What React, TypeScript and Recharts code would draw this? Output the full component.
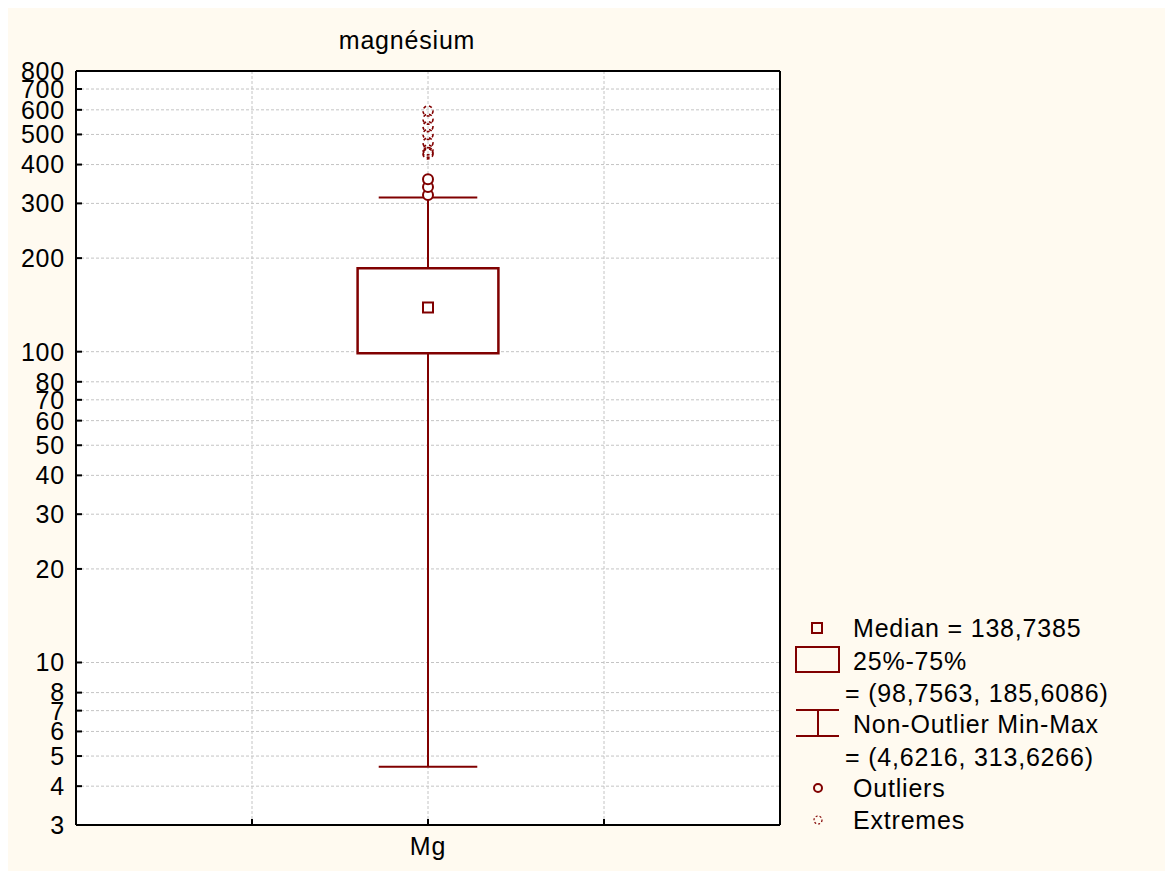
import { CartesianGrid, ComposedChart, ReferenceArea, ReferenceLine, Scatter, XAxis, YAxis } from 'recharts';

const TITLE = 'magnésium';
const CATEGORY = 'Mg';
const X_TICKS = [1, 2, 3];
const X_LABELS = ['', CATEGORY, ''];
const Y_TICKS = [3, 4, 5, 6, 7, 8, 10, 20, 30, 40, 50, 60, 70, 80, 100, 200, 300, 400, 500, 600, 700, 800];
const MEDIAN = [138.7385];
const QUARTILES = [98.7563, 185.6086];
const NON_OUTLIER = [4.6216, 313.6266];
const OUTLIERS = [319, 339, 359];
const EXTREMES = [433, 438, 446, 470, 500, 530, 560, 595];

const RED = '#800000';
const FONT = '"Liberation Sans", Arial, sans-serif';
const POS = 2;

const fmt = (v: number) => v.toFixed(4).replace('.', ',');

const medianData = MEDIAN.map((y) => ({ x: POS, y }));
const outlierData = OUTLIERS.map((y) => ({ x: POS, y }));
const extremeData = EXTREMES.map((y) => ({ x: POS, y }));

const SquareShape = (p: any) => (
  <rect x={p.cx - 5} y={p.cy - 5} width={10} height={10} fill="#fff" stroke={RED} strokeWidth={2} />
);
const CircleShape = (p: any) => <circle cx={p.cx} cy={p.cy} r={5} fill="#fff" stroke={RED} strokeWidth={2} />;
const ExtremeShape = (p: any) => (
  <circle cx={p.cx} cy={p.cy} r={5} fill="none" stroke={RED} strokeWidth={1.6} strokeDasharray="3 3" />
);

const textStyle = { fontSize: 25, letterSpacing: 0.8, fill: '#000' } as const;

const App = () => {
  return (
    <div style={{ position: 'relative', width: 1157, height: 863, background: '#FFFAF0', fontFamily: FONT }}>
      <ComposedChart width={1157} height={863} margin={{ top: 53, right: 375, bottom: 0, left: 0 }}>
        <CartesianGrid fill="#ffffff" stroke="#c4c4c4" strokeDasharray="3 2" />
        <XAxis
          type="number"
          dataKey="x"
          domain={[0, 4]}
          ticks={X_TICKS}
          interval={0}
          height={46}
          tickSize={-6}
          tickMargin={18}
          tickFormatter={(v: number) => X_LABELS[X_TICKS.indexOf(v)] ?? ''}
          axisLine={{ stroke: '#000', strokeWidth: 2 }}
          tickLine={{ stroke: '#000', strokeWidth: 2 }}
          tick={textStyle}
        />
        <XAxis
          xAxisId="top"
          orientation="top"
          type="number"
          domain={[0, 4]}
          ticks={X_TICKS}
          height={10}
          tickSize={-6}
          tick={false}
          axisLine={{ stroke: '#000', strokeWidth: 2 }}
          tickLine={{ stroke: '#000', strokeWidth: 2 }}
        />
        <YAxis
          type="number"
          dataKey="y"
          scale="log"
          domain={[3, 800]}
          allowDataOverflow
          ticks={Y_TICKS}
          interval={0}
          width={68}
          tickSize={-6}
          tickMargin={17}
          axisLine={{ stroke: '#000', strokeWidth: 2 }}
          tickLine={{ stroke: '#000', strokeWidth: 2 }}
          tick={textStyle}
        />
        <YAxis
          yAxisId="right"
          orientation="right"
          type="number"
          domain={[0, 4]}
          ticks={[1, 2, 3]}
          width={10}
          tickSize={-6}
          tick={false}
          axisLine={{ stroke: '#000', strokeWidth: 2 }}
          tickLine={{ stroke: '#000', strokeWidth: 2 }}
        />
        <ReferenceLine
          segment={[{ x: POS, y: NON_OUTLIER[0] }, { x: POS, y: QUARTILES[0] }]}
          stroke={RED}
          strokeWidth={2}
        />
        <ReferenceLine
          segment={[{ x: POS, y: QUARTILES[1] }, { x: POS, y: NON_OUTLIER[1] }]}
          stroke={RED}
          strokeWidth={2}
        />
        <ReferenceLine
          segment={[{ x: POS - 0.28, y: NON_OUTLIER[0] }, { x: POS + 0.28, y: NON_OUTLIER[0] }]}
          stroke={RED}
          strokeWidth={2}
        />
        <ReferenceLine
          segment={[{ x: POS - 0.28, y: NON_OUTLIER[1] }, { x: POS + 0.28, y: NON_OUTLIER[1] }]}
          stroke={RED}
          strokeWidth={2}
        />
        <ReferenceArea
          x1={POS - 0.4}
          x2={POS + 0.4}
          y1={QUARTILES[0]}
          y2={QUARTILES[1]}
          fill="#ffffff"
          fillOpacity={1}
          stroke={RED}
          strokeWidth={2.5}
        />
        <Scatter data={extremeData} shape={ExtremeShape} isAnimationActive={false} />
        <Scatter data={outlierData} shape={CircleShape} isAnimationActive={false} />
        <Scatter data={medianData} shape={SquareShape} isAnimationActive={false} />
      </ComposedChart>
      <svg
        width={1157}
        height={863}
        style={{ position: 'absolute', left: 0, top: 0, pointerEvents: 'none', fontFamily: FONT }}
      >
        <text x={399} y={41} textAnchor="middle" {...textStyle}>
          {TITLE}
        </text>
        <rect x={804} y={615} width={10} height={10} fill="none" stroke={RED} strokeWidth={2} />
        <text x={845} y={629} {...textStyle}>{`Median = ${fmt(MEDIAN[0])}`}</text>
        <rect x={788} y={639} width={43} height={25} fill="none" stroke={RED} strokeWidth={2} />
        <text x={845} y={662} {...textStyle}>25%-75%</text>
        <text x={837} y={694} {...textStyle}>{`= (${fmt(QUARTILES[0])}, ${fmt(QUARTILES[1])})`}</text>
        <line x1={788} x2={831} y1={702} y2={702} stroke={RED} strokeWidth={2} />
        <line x1={788} x2={831} y1={728} y2={728} stroke={RED} strokeWidth={2} />
        <line x1={810} x2={810} y1={702} y2={728} stroke={RED} strokeWidth={2} />
        <text x={845} y={725} {...textStyle}>Non-Outlier Min-Max</text>
        <text x={837} y={758} {...textStyle}>{`= (${fmt(NON_OUTLIER[0])}, ${fmt(NON_OUTLIER[1])})`}</text>
        <circle cx={810} cy={780} r={4} fill="none" stroke={RED} strokeWidth={2} />
        <text x={845} y={789} {...textStyle}>Outliers</text>
        <circle cx={810} cy={812} r={4} fill="none" stroke={RED} strokeWidth={1.2} strokeDasharray="2 2" />
        <text x={845} y={821} {...textStyle}>Extremes</text>
      </svg>
    </div>
  );
};

export default App;
